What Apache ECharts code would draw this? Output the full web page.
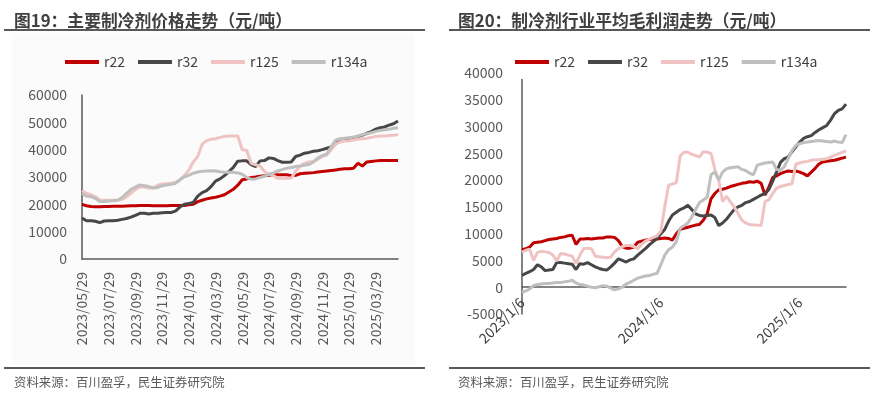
<!DOCTYPE html>
<html>
<head>
<meta charset="utf-8">
<script src="https://cdn.jsdelivr.net/npm/echarts@6/dist/echarts.min.js"></script>
<style>
  html, body { margin:0; padding:0; background:#fff; }
  #main { width:884px; height:397px; }
</style>
</head>
<body>
<div id="main"></div>
<script>
  var names = ['r22', 'r32', 'r125', 'r134a'];
  var colors = ['#c00000', '#474747', '#f0c3c3', '#bfbfbf'];
  var font = '"Noto Sans CJK SC", "Noto Sans", sans-serif';

  // 图19 价格，2023/05/29 起，每月三个点
  var price_r22 = [20000,19500,19200,19100,19100,19200,19200,19300,19300,19300,
    19400,19500,19500,19600,19600,19600,19500,19500,19500,19500,
    19600,19600,19600,19600,19800,20000,21000,21500,22000,22300,
    22600,23000,23500,24500,25500,27000,29000,29300,29800,30000,
    30300,30500,30600,30800,30800,30800,30800,30500,30600,31200,
    31400,31500,31600,31800,32000,32200,32400,32600,32800,33000,
    33000,33200,35000,34000,35500,35700,35900,36000,36000,36000,
    36000,36000];
  var price_r32 = [15000,14000,14000,13800,13300,13900,14000,14000,14200,14500,
    14800,15300,16000,16700,16700,16500,16700,16700,16900,17000,
    17000,17500,19000,20000,20300,20700,23000,24300,25000,26500,
    28500,29300,30500,32000,33500,35800,35900,35900,34500,33800,
    35900,36000,37000,36800,36000,35400,35400,35500,37500,38000,
    38700,39000,39400,39600,40000,40500,41000,42500,43000,43600,
    44000,44400,44800,45300,46000,46600,47500,48000,48300,49000,
    49500,50500];
  var price_r125 = [25000,24000,23500,22800,21600,21500,21500,21500,21500,21800,
    22800,24000,25500,26300,26300,26000,26000,27000,27400,27500,
    27700,28000,28900,30500,32500,35500,37500,42000,43300,43800,
    44000,44500,44800,45000,45000,45000,40000,39800,35000,34500,
    34000,32000,31000,30500,29500,29500,29500,29600,32000,34000,
    35000,35500,35700,36500,37500,38000,40000,42000,42800,43200,
    43300,43500,43800,44000,44200,44500,44800,45000,45000,45200,
    45300,45500];
  var price_r134a = [24000,23000,22800,22200,21000,21000,21200,21300,21500,22500,
    24000,25500,26300,27100,26800,26500,26000,26200,26800,27100,
    27300,27700,29000,30100,30600,31400,31800,32100,32200,32300,
    32200,31900,31700,31700,31700,31500,31000,29800,29200,29300,
    29800,30300,31000,31500,32200,32700,33200,33500,33800,34000,
    34300,34600,35500,37000,37800,38500,41000,43500,44000,44200,
    44400,44600,45000,45500,45800,46200,46700,47000,47300,47500,
    47800,48000];

  // 图20 毛利，2023/1/6 起，每月三个点
  var profit_r22 = [7000,7200,7500,8300,8400,8500,8700,8900,9000,9100,
    9300,9400,9600,9700,8000,9000,9000,9100,9000,9100,
    9200,9200,9400,9400,9300,8700,7600,7300,7300,7500,
    8400,8600,8800,8900,9000,9000,9100,9200,9100,8800,
    10000,10800,11000,11200,11400,11600,11700,12500,13700,16500,
    17500,18200,18300,18500,18800,19000,19200,19400,19500,19700,
    19600,19800,19400,17200,18700,20500,20800,21200,21500,21700,
    21600,21700,21500,21200,20800,21500,22200,23000,23400,23500,
    23600,23700,23900,24100,24300];
  var profit_r32 = [2200,2600,2900,3300,4200,3800,3100,3200,3300,4600,
    4600,4500,4400,4300,3300,4400,4300,4600,4200,3800,
    3500,3300,3200,3800,4500,5300,5000,4700,5100,5300,
    6000,6600,7200,7900,8500,9100,10000,10800,12300,13500,
    14000,14500,14800,15300,14500,13700,13400,13300,13400,13500,
    13000,11500,12000,12700,13600,14500,15000,15300,15800,16000,
    16400,16800,17200,17500,18200,19800,21500,23300,24000,24300,
    25300,26200,27100,27800,28100,28300,28900,29400,29800,30200,
    31200,32400,33000,33300,34200];
  var profit_r125 = [6500,6900,7100,5000,6500,6700,6600,6500,6000,4900,
    6300,6200,6000,5800,4400,6000,7200,7300,7200,5800,
    5700,5600,5500,5600,6600,7200,7600,7800,7800,7600,
    7200,8000,8600,9000,9300,9600,10500,15000,19000,19300,
    19500,24500,25200,25200,24800,24600,24300,25300,25200,25000,
    22000,20000,16000,17000,16000,15000,13800,12500,12000,11700,
    11600,11600,11500,16000,16300,17500,18500,18800,19000,19200,
    19300,23000,23200,23400,23500,23700,23800,23800,23900,24000,
    24300,24600,24900,25200,25500];
  var profit_r134a = [-1000,-700,-300,300,500,600,700,700,800,900,
    900,1000,1100,1300,800,500,400,200,0,-100,
    100,300,200,-200,-500,-300,0,600,900,1300,
    1700,1900,2100,2200,2400,2600,4200,6000,7000,7500,
    8500,11000,11500,12000,13100,14500,15800,16300,16800,21000,
    21500,20000,21500,22100,22300,22400,22500,22000,21800,21300,
    21000,22800,23000,23200,23300,23400,22000,21800,22500,24000,
    25500,26500,26800,27000,27100,27200,27300,27400,27300,27200,
    27100,27300,27100,27000,28500];

  // 日期：每月 9/19/29 和 6/16/26
  var dates1 = ['2023/05/29'];
  var y = 2023, m = 5;
  while (dates1.length < price_r22.length) {
    m++; if (m > 12) { m = 1; y++; }
    var mm = (m < 10 ? '0' : '') + m;
    dates1.push(y + '/' + mm + '/09', y + '/' + mm + '/19', y + '/' + mm + '/' + (m == 2 && y % 4 ? '28' : '29'));
  }
  dates1 = dates1.slice(0, price_r22.length);

  var dates2 = [];
  y = 2023; m = 1;
  while (dates2.length < profit_r22.length) {
    dates2.push(y + '/' + m + '/6', y + '/' + m + '/16', y + '/' + m + '/26');
    m++; if (m > 12) { m = 1; y++; }
  }
  dates2 = dates2.slice(0, profit_r22.length);

  var priceData = [price_r22, price_r32, price_r125, price_r134a];
  var profitData = [profit_r22, profit_r32, profit_r125, profit_r134a];

  var series = [];
  for (var i = 0; i < 4; i++) {
    series.push({ name: names[i], type: 'line', xAxisIndex: 0, yAxisIndex: 0, data: priceData[i],
      symbol: 'none', lineStyle: { width: 3, color: colors[i] }, itemStyle: { color: colors[i] } });
  }
  for (var i = 0; i < 4; i++) {
    series.push({ name: names[i], type: 'line', xAxisIndex: 1, yAxisIndex: 1, data: profitData[i],
      symbol: 'none', lineStyle: { width: 3, color: colors[i] }, itemStyle: { color: colors[i] } });
  }

  var plain = function (v) { return String(v); };

  var chart = echarts.init(document.getElementById('main'));
  chart.setOption({
    animation: false,
    backgroundColor: '#fff',
    graphic: [
      { type: 'rect', z: -10, shape: { x: 12, y: 33, width: 403, height: 332 }, style: { fill: '#fbfbfb' } },
      { type: 'text', style: { x: 14, y: 21, text: '图19：主要制冷剂价格走势（元/吨）', font: 'bold 16.8px ' + font, fill: '#404040', verticalAlign: 'middle' } },
      { type: 'text', style: { x: 458, y: 21, text: '图20：制冷剂行业平均毛利润走势（元/吨）', font: 'bold 16.8px ' + font, fill: '#404040', verticalAlign: 'middle' } },
      { type: 'line', shape: { x1: 4, y1: 30, x2: 425, y2: 30 }, style: { stroke: '#595959', lineWidth: 2 } },
      { type: 'line', shape: { x1: 449, y1: 30, x2: 870, y2: 30 }, style: { stroke: '#595959', lineWidth: 2 } },
      { type: 'line', shape: { x1: 4, y1: 368, x2: 425, y2: 368 }, style: { stroke: '#595959', lineWidth: 2 } },
      { type: 'line', shape: { x1: 449, y1: 368, x2: 870, y2: 368 }, style: { stroke: '#595959', lineWidth: 2 } },
      { type: 'text', style: { x: 14, y: 382, text: '资料来源：百川盈孚，民生证券研究院', font: '12.4px ' + font, fill: '#595959', verticalAlign: 'middle' } },
      { type: 'text', style: { x: 458, y: 382, text: '资料来源：百川盈孚，民生证券研究院', font: '12.4px ' + font, fill: '#595959', verticalAlign: 'middle' } }
    ],
    legend: [
      { data: names, left: 60, top: 50, icon: 'rect', itemWidth: 34, itemHeight: 4, itemGap: 13,
        textStyle: { fontSize: 14, color: '#404040', fontFamily: font } },
      { data: names, left: 513, top: 51, icon: 'rect', itemWidth: 34, itemHeight: 4, itemGap: 13,
        backgroundColor: '#fff', padding: [4, 2, 10, 2],
        textStyle: { fontSize: 14, color: '#404040', fontFamily: font } }
    ],
    grid: [
      { left: 82, top: 95, width: 316, height: 164 },
      { left: 522, top: 73, width: 324, height: 241 }
    ],
    xAxis: [
      { type: 'category', gridIndex: 0, data: dates1, boundaryGap: false,
        axisTick: { show: false },
        axisLine: { lineStyle: { color: '#595959', width: 1.5 } },
        axisLabel: { interval: 5, rotate: 90, fontSize: 14, color: '#595959', fontFamily: font, margin: 13 } },
      { type: 'category', gridIndex: 1, data: dates2, boundaryGap: false,
        axisTick: { show: false },
        axisLine: { onZero: true, lineStyle: { color: '#595959', width: 1.5 } },
        axisLabel: { interval: 35, rotate: 45, fontSize: 14, color: '#404040', fontFamily: font, margin: -14 } }
    ],
    yAxis: [
      { type: 'value', gridIndex: 0, min: 0, max: 60000, interval: 10000,
        splitLine: { show: false }, axisTick: { show: false },
        axisLine: { show: true, lineStyle: { color: '#595959', width: 1.5 } },
        axisLabel: { fontSize: 14, color: '#595959', fontFamily: font, margin: 15, formatter: plain } },
      { type: 'value', gridIndex: 1, min: -5000, max: 40000, interval: 5000,
        splitLine: { show: false }, axisTick: { show: false },
        axisLine: { show: true, lineStyle: { color: '#595959', width: 1.5 } },
        axisLabel: { fontSize: 14, color: '#595959', fontFamily: font, margin: 19, formatter: plain } }
    ],
    series: series
  });
</script>
</body>
</html>
